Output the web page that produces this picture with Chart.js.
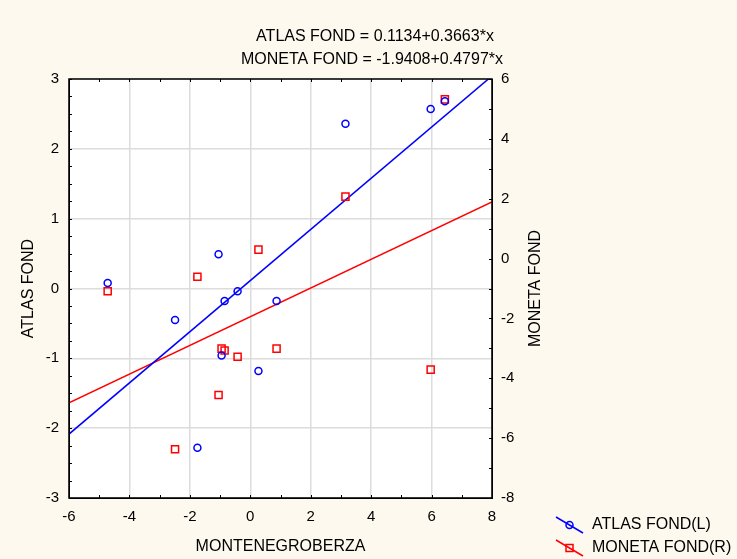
<!DOCTYPE html>
<html>
<head>
<meta charset="utf-8">
<script src="https://cdn.jsdelivr.net/npm/chart.js@4"></script>
<style>
  html, body { margin: 0; padding: 0; background: #fdf9ee; }
  canvas { display: block; }
</style>
</head>
<body>
<canvas id="chart" width="737" height="559"></canvas>
<script>
// MONTENEGROBERZA values (shared x for both funds)
const berzaX = [-4.72, -2.49, -1.75, -1.05, -0.95, -0.85, -0.42, 0.27, 0.87, 3.15, 5.97, 6.44];
// ATLAS FOND (left axis)
const atlasY = [0.08, -0.45, -2.28, 0.49, -0.96, -0.18, -0.04, -1.18, -0.18, 2.36, 2.57, 2.68];
// MONETA FOND (right axis)
const monetaY = [-1.09, -6.37, -0.61, -4.56, -3.01, -3.07, -3.28, 0.30, -3.01, 2.07, -3.71, 5.32];

// Regression coefficients
const atlasFit = [0.1134, 0.3663];
const monetaFit = [-1.9408, 0.4797];
const fitRange = [-6, 8];

const titleLines = [
  "ATLAS FOND = 0.1134+0.3663*x",
  "MONETA FOND = -1.9408+0.4797*x"
];
const legendLabels = ["ATLAS FOND(L)", "MONETA FOND(R)"];

const FONT = "'Liberation Sans', Arial, sans-serif";
const BLUE = "#0000ff";
const RED = "#ff0000";

const toPoints = (xs, ys) => xs.map((x, i) => ({ x: x, y: ys[i] }));
const fitLine = (c) => fitRange.map((x) => ({ x: x, y: c[0] + c[1] * x }));

// Backgrounds, frame, inner tick marks, titles and legend
const decorations = {
  id: "decorations",
  beforeDraw(chart) {
    const ctx = chart.ctx;
    const a = chart.chartArea;
    ctx.save();
    ctx.fillStyle = "#fdf9ee";
    ctx.fillRect(0, 0, chart.width, chart.height);
    ctx.fillStyle = "#ffffff";
    ctx.fillRect(a.left, a.top, a.right - a.left, a.bottom - a.top);
    ctx.restore();
  },
  afterDraw(chart) {
    const ctx = chart.ctx;
    const a = chart.chartArea;
    const sx = chart.scales.x;
    const sy = chart.scales.y;
    const sy2 = chart.scales.y2;
    ctx.save();

    // frame
    ctx.strokeStyle = "#000";
    ctx.lineWidth = 1.5;
    ctx.strokeRect(a.left, a.top, a.right - a.left, a.bottom - a.top);

    // inner tick marks
    ctx.lineWidth = 1;
    ctx.beginPath();
    for (let v = -3; v <= 3.001; v += 0.25) {
      const p = Math.round(sy.getPixelForValue(v)) + 0.5;
      ctx.moveTo(a.left, p);
      ctx.lineTo(a.left + 3, p);
    }
    for (let v = -8; v <= 6.001; v += 1) {
      const p = Math.round(sy2.getPixelForValue(v)) + 0.5;
      ctx.moveTo(a.right, p);
      ctx.lineTo(a.right - 3, p);
    }
    for (let v = -6; v <= 8.001; v += 1) {
      const p = Math.round(sx.getPixelForValue(v)) + 0.5;
      ctx.moveTo(p, a.top);
      ctx.lineTo(p, a.top + 3);
      ctx.moveTo(p, a.bottom);
      ctx.lineTo(p, a.bottom - 3);
    }
    ctx.stroke();

    // titles
    ctx.fillStyle = "#000";
    ctx.font = "16px " + FONT;
    ctx.textAlign = "center";
    ctx.textBaseline = "middle";
    ctx.fillText(titleLines[0], 375, 37);
    ctx.fillText(titleLines[1], 372, 60);

    // axis titles
    ctx.fillText("MONTENEGROBERZA", (a.left + a.right) / 2, 547);
    ctx.save();
    ctx.translate(29, (a.top + a.bottom) / 2);
    ctx.rotate(-Math.PI / 2);
    ctx.fillText("ATLAS FOND", 0, 0);
    ctx.restore();
    ctx.save();
    ctx.translate(536, (a.top + a.bottom) / 2);
    ctx.rotate(-Math.PI / 2);
    ctx.fillText("MONETA FOND", 0, 0);
    ctx.restore();

    // legend
    const items = [
      { color: BLUE, style: "circle", y: 525 },
      { color: RED, style: "rect", y: 548 }
    ];
    ctx.textAlign = "left";
    items.forEach((it, i) => {
      ctx.strokeStyle = it.color;
      ctx.lineWidth = 1.5;
      ctx.beginPath();
      ctx.moveTo(556, it.y - 8);
      ctx.lineTo(583, it.y + 8);
      ctx.stroke();
      ctx.beginPath();
      if (it.style === "circle") {
        ctx.arc(569.5, it.y, 3.5, 0, Math.PI * 2);
      } else {
        ctx.rect(566, it.y - 3.5, 7, 7);
      }
      ctx.stroke();
      ctx.fillStyle = "#000";
      ctx.fillText(legendLabels[i], 592, it.y);
    });

    ctx.restore();
  }
};

const tickFont = { family: FONT, size: 15 };

new Chart(document.getElementById("chart"), {
  type: "scatter",
  data: {
    datasets: [
      {
        label: "ATLAS FOND(L)",
        data: toPoints(berzaX, atlasY),
        yAxisID: "y",
        pointStyle: "circle",
        pointRadius: 3.5,
        borderColor: BLUE,
        backgroundColor: "rgba(0,0,0,0)",
        borderWidth: 1.5
      },
      {
        label: "MONETA FOND(R)",
        data: toPoints(berzaX, monetaY),
        yAxisID: "y2",
        pointStyle: "rect",
        pointRadius: 5,
        borderColor: RED,
        backgroundColor: "rgba(0,0,0,0)",
        borderWidth: 1.5
      },
      {
        label: "atlas fit",
        data: fitLine(atlasFit),
        yAxisID: "y",
        showLine: true,
        pointRadius: 0,
        borderColor: BLUE,
        borderWidth: 1.5
      },
      {
        label: "moneta fit",
        data: fitLine(monetaFit),
        yAxisID: "y2",
        showLine: true,
        pointRadius: 0,
        borderColor: RED,
        borderWidth: 1.5
      }
    ]
  },
  options: {
    responsive: false,
    animation: false,
    layout: { padding: { top: 79, right: 190, left: 0, bottom: 0 } },
    plugins: {
      legend: { display: false },
      tooltip: { enabled: false }
    },
    scales: {
      x: {
        type: "linear",
        min: -6,
        max: 8,
        ticks: { stepSize: 2, color: "#000", font: tickFont, padding: 10 },
        grid: { color: "#dcdcdc", lineWidth: 1.5, drawTicks: false },
        border: { color: "#000" },
        afterFit(scale) { scale.height = 61; }
      },
      y: {
        type: "linear",
        position: "left",
        min: -3,
        max: 3,
        ticks: { stepSize: 1, color: "#000", font: tickFont, padding: 10 },
        grid: { color: "#dcdcdc", lineWidth: 1.5, drawTicks: false },
        border: { color: "#000" },
        afterFit(scale) { scale.width = 69; }
      },
      y2: {
        type: "linear",
        position: "right",
        min: -8,
        max: 6,
        ticks: { stepSize: 2, color: "#000", font: tickFont, padding: 9 },
        grid: { display: false, drawTicks: false },
        border: { color: "#000" },
        afterFit(scale) { scale.width = 55; }
      }
    }
  },
  plugins: [decorations]
});
</script>
</body>
</html>
